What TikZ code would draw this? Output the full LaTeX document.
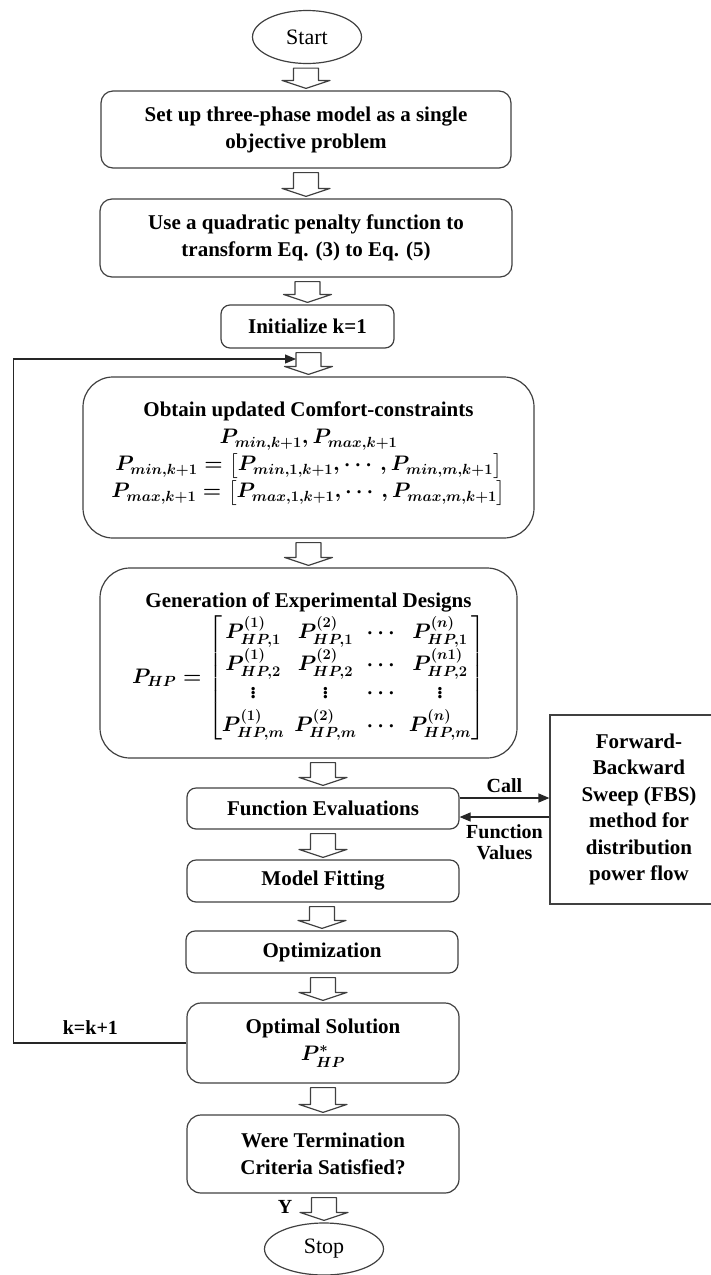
\RequirePackage{fix-cm}
\documentclass[tikz,border=0pt]{standalone}
\usepackage{amsmath}
\usepackage{fontspec}
\setmainfont{Liberation Serif}
\usetikzlibrary{shapes.geometric,arrows.meta,calc}

\newcommand{\blockarrow}[2]{%
  \draw[blockarr] let \p1=(#2.north), \p2=(#1.south) in
    (\x1-12.5pt,\y2-4pt) -- (\x1+12.5pt,\y2-4pt) -- (\x1+12.5pt,\y1+10pt)
    -- (\x1+24pt,\y1+10pt) -- (\x1,\y1+2pt) -- (\x1-24pt,\y1+10pt)
    -- (\x1-12.5pt,\y1+10pt) -- cycle;}

\begin{document}
\begin{tikzpicture}[x=1pt,y=-1pt,
  every node/.style={font=\fontsize{21}{27}\selectfont\bfseries\boldmath, align=center},
  box/.style={draw=black!75, line width=1.2pt, rounded corners=#1, inner sep=2pt},
  box/.default=9pt,
  sidebox/.style={draw=black!75, line width=1.2pt, inner sep=2pt, font=\fontsize{21}{26.4}\selectfont\bfseries},
  term/.style={ellipse, draw=black!75, line width=1.2pt, inner sep=1pt, font=\fontsize{22}{26}\selectfont},
  blockarr/.style={draw=black!75, line width=1.2pt, fill=white, line join=round},
  lbl/.style={font=\fontsize{20}{21}\selectfont\bfseries, inner sep=1pt},
  flow/.style={draw=black!85, line width=1.2pt, -{Triangle[length=11pt,width=9pt]}}]
  \useasboundingbox (0,0) rectangle (711,1275);

  \node[term, minimum width=109pt, minimum height=53pt] (start) at (307,37) {Start};
  \node[box=12pt, minimum width=410pt, minimum height=77pt] (setup) at (306,129.5)
    {Set up three-phase model as a single\\objective problem};
  \node[box=12pt, minimum width=412pt, minimum height=78pt] (penalty) at (306,238)
    {Use a quadratic penalty function to\\transform Eq. (3) to Eq. (5)};
  \node[box, minimum width=173pt, minimum height=43pt] (init) at (307.5,326.5) {Initialize k=1};
  \node[box=30pt, minimum width=451pt, minimum height=161pt] (comfort) at (308.5,457.5)
    {Obtain updated Comfort-constraints\\
     $P_{min,k+1},P_{max,k+1}$\\
     $P_{min,k+1}=\big[P_{min,1,k+1},\cdots,P_{min,m,k+1}\big]$\\
     $P_{max,k+1}=\big[P_{max,1,k+1},\cdots,P_{max,m,k+1}\big]$\\[-12pt]\mbox{}};
  \node[box=30pt, minimum width=417pt, minimum height=190pt] (design) at (308.5,663)
    {Generation of Experimental Designs\\[3pt]
     $P_{HP}=\begin{bmatrix}
       P^{(1)}_{HP,1} & P^{(2)}_{HP,1} & \cdots & P^{(n)}_{HP,1}\\[2pt]
       P^{(1)}_{HP,2} & P^{(2)}_{HP,2} & \cdots & P^{(n1)}_{HP,2}\\[1pt]
       \vdots & \vdots & \cdots & \vdots\\[2pt]
       P^{(1)}_{HP,m} & P^{(2)}_{HP,m} & \cdots & P^{(n)}_{HP,m}
     \end{bmatrix}$\\[-8pt]\mbox{}};
  \node[box, minimum width=272pt, minimum height=41pt] (fe) at (323,808.5) {Function Evaluations};
  \node[box, minimum width=272pt, minimum height=42pt] (mf) at (323,881) {Model Fitting};
  \node[box, minimum width=272pt, minimum height=42pt] (opt) at (322,952) {Optimization};
  \node[box=14pt, minimum width=272pt, minimum height=80pt] (os) at (323,1043)
    {Optimal Solution\\$P^{*}_{HP}$};
  \node[box=14pt, minimum width=272pt, minimum height=78pt] (wt) at (323,1154)
    {Were Termination\\Criteria Satisfied?};
  \node[term, minimum width=119pt, minimum height=52pt] (stop) at (324,1249) {Stop};
  \node[sidebox, minimum width=178pt, minimum height=189pt] (fbs) at (639,809.5)
    {Forward-\\Backward\\Sweep (FBS)\\method for\\distribution\\power flow};

  \blockarrow{start}{setup}
  \blockarrow{setup}{penalty}
  \blockarrow{penalty}{init}
  \blockarrow{init}{comfort}
  \blockarrow{comfort}{design}
  \blockarrow{design}{fe}
  \blockarrow{fe}{mf}
  \blockarrow{mf}{opt}
  \blockarrow{opt}{os}
  \blockarrow{os}{wt}
  \blockarrow{wt}{stop}
  \node[lbl] (yes) at (285,1207) {Y};

  \coordinate (loopin) at (296,359);
  \draw[flow] (os.west) -- ++(-173,0) node[lbl, pos=0.555, above=7pt] (kinc) {k=k+1} |- (loopin);

  \coordinate (callfrom) at ([yshift=10.5pt]fe.east);
  \coordinate (backto) at ([yshift=-8.5pt]fe.east);
  \draw[flow] (callfrom) -- (callfrom -| fbs.west) node[lbl, midway, above=4pt] (call) {Call};
  \draw[flow] (backto -| fbs.west) -- (backto) node[lbl, midway, below=6pt] (fval) {Function\\Values};
\end{tikzpicture}
\end{document}
